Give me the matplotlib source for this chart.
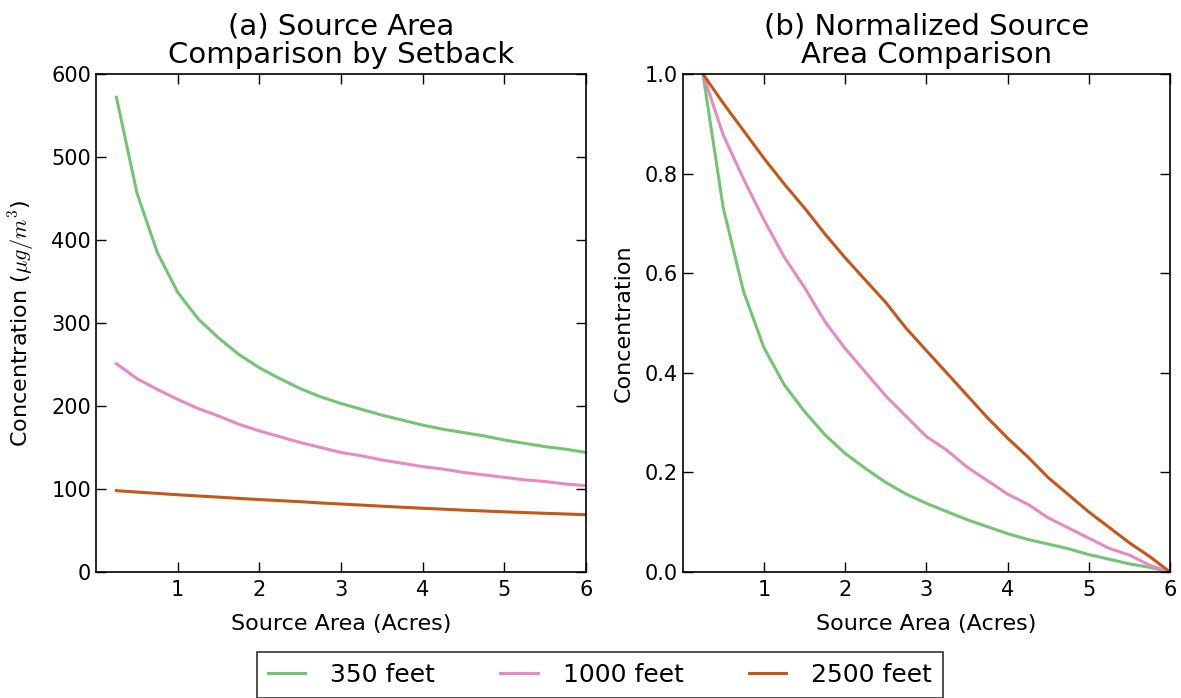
import numpy as np
import matplotlib
matplotlib.use("Agg")
import matplotlib.pyplot as plt

plt.rcParams['mathtext.fontset'] = 'cm'
plt.rcParams['font.family'] = ['DejaVu Sans']

# source area in acres
area = [0.25, 0.5, 0.75, 1.0, 1.25, 1.5, 1.75, 2.0, 2.25, 2.5, 2.75, 3.0,
        3.25, 3.5, 3.75, 4.0, 4.25, 4.5, 4.75, 5.0, 5.25, 5.5, 5.75, 6.0]

# concentration (ug/m3) by setback distance
conc_350 = [572, 457, 385, 337, 305, 282, 262, 246, 233, 221, 211, 203,
            196, 189, 183, 177, 172, 168, 164, 159, 155, 151, 148, 144]
conc_1000 = [251, 233, 220, 208, 197, 188, 178, 170, 163, 156, 150, 144,
             140, 135, 131, 127, 124, 120, 117, 114, 111, 109, 106, 104]
conc_2500 = [98.0, 96.3, 94.7, 93.1, 91.6, 90.2, 88.7, 87.3, 86.0, 84.7, 83.2, 81.9,
             80.6, 79.3, 78.0, 76.8, 75.7, 74.5, 73.5, 72.5, 71.6, 70.7, 69.9, 69.0]

labels = ['350 feet', '1000 feet', '2500 feet']
colors = ['#74c476', '#e78ac3', '#c4571a']
series = [conc_350, conc_1000, conc_2500]


def normalize(v):
    v = np.asarray(v, dtype=float)
    return (v - v.min()) / (v.max() - v.min())


fig = plt.figure(figsize=(11.81, 6.98), dpi=100)
ax1 = fig.add_axes([0.0813, 0.1805, 0.415, 0.7135])
ax2 = fig.add_axes([0.578, 0.1805, 0.4127, 0.7135])

for s, c, lab in zip(series, colors, labels):
    ax1.plot(area, s, color=c, lw=2.2, label=lab)
    ax2.plot(area, normalize(s), color=c, lw=2.2)

ax1.set_xlim(0, 6)
ax1.set_ylim(0, 600)
ax1.set_yticks(range(0, 601, 100))
ax1.set_title('(a) Source Area\nComparison by Setback', fontsize=21, linespacing=1.0, pad=8)
ax1.set_ylabel(r'Concentration ($\mu g/m^3$)', fontsize=16, labelpad=10)

ax2.set_xlim(0, 6)
ax2.set_ylim(0, 1)
ax2.set_yticks(np.arange(0, 1.01, 0.2))
ax2.set_yticklabels(['%.1f' % t for t in np.arange(0, 1.01, 0.2)])
ax2.set_title('(b) Normalized Source\nArea Comparison', fontsize=21, linespacing=1.0, pad=8)
ax2.set_ylabel('Concentration', fontsize=16, labelpad=8)

for ax in (ax1, ax2):
    ax.set_xticks([1, 2, 3, 4, 5, 6])
    ax.set_xlabel('Source Area (Acres)', fontsize=16, labelpad=10)
    ax.tick_params(direction='in', top=True, right=True, labelsize=15, length=7, width=1)
    ax.tick_params(axis='x', pad=6)
    for sp in ax.spines.values():
        sp.set_linewidth(1.2)

leg = fig.legend(loc='upper center', bbox_to_anchor=(0.508, 0.066), ncol=3,
                 fontsize=18, frameon=True, fancybox=False, edgecolor='black',
                 handlelength=1.5, handletextpad=1.0, columnspacing=2.6,
                 borderpad=0.45, borderaxespad=0)
leg.get_frame().set_linewidth(1.2)

fig.savefig('out.png', dpi=100)
